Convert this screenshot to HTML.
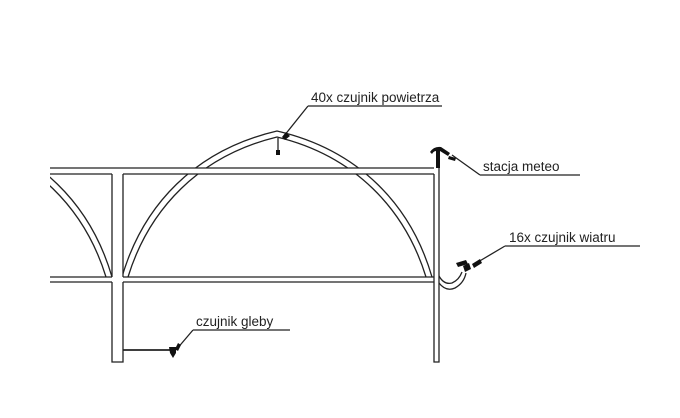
<!DOCTYPE html>
<html><head><style>body{margin:0;background:#fff}svg{display:block}text{font-family:"Liberation Sans",sans-serif;font-size:13.5px;fill:#222}</style></head>
<body>
<svg width="680" height="418" viewBox="0 0 680 418" xmlns="http://www.w3.org/2000/svg">
<g fill="none" stroke="#222" stroke-width="1.3">
<path d="M122,277 C143,205 195,150 277,131 C359,150 411,205 432,277"/>
<path d="M128,277 C149,209 199,156 277,137 C355,156 405,209 426,277"/>
<path d="M-43,131 C39,150 91,205 112,277"/>
<path d="M-43,137 C35,156 85,209 106,277"/>
</g>
<rect x="50" y="168" width="389" height="6" fill="#fff"/>
<rect x="50" y="277" width="389" height="5" fill="#fff"/>
<rect x="112" y="168" width="11" height="194" fill="#fff"/>
<rect x="0" y="0" width="50" height="418" fill="#fff"/>
<g fill="none" stroke="#222" stroke-width="1.3">
<path d="M50,168 H434"/>
<path d="M50,174 H112 M123,174 H434"/>
<path d="M50,277 H112 M123,277 H434"/>
<path d="M50,282 H112 M123,282 H434"/>
<path d="M112,174 V277 M123,174 V277 M112,282 V362 H123 V282"/>
<path d="M434,174 V362 H439 V152"/>
<path d="M439,276 Q444,285 452,283 Q459,280 462,272"/>
<path d="M439,283 Q446,292 455,288 Q464,283 466,273"/>
<path d="M123,350 H172" stroke-width="1.8"/>
<path d="M308,106 H442 M308,106 L284,136"/>
<path d="M480,175 H580 M480,175 L452,155"/>
<path d="M505,246 H640 M505,246 L478,262"/>
<path d="M193,330 H290 M193,330 L176,350"/>
<path d="M278,138 V150"/>
</g>
<g fill="#111">
<rect x="276" y="150" width="4" height="5"/>
<polygon points="282,137 286,132 290,136 285,140"/>
<rect x="436" y="150" width="4" height="18"/>
<path d="M430,152 Q434,146 441,147 L450,153 L448,156 L440,151 Q434,150 432,154 Z"/>
<polygon points="449,156 456,158 455,161 448,159"/>
<polygon points="456,263 466,260 468,264 458,267"/>
<polygon points="463,266 469,263 471,269 465,272"/>
<polygon points="472,264 480,259 482,263 474,268"/>
<path d="M169,347 h7 v6 l-3,5 l-3,-5 z"/>
<polygon points="175,349 178,343 181,345 178,351"/>
</g>
<text x="311" y="102">40x czujnik powietrza</text>
<text x="483" y="171">stacja meteo</text>
<text x="509" y="242">16x czujnik wiatru</text>
<text x="196" y="326">czujnik gleby</text>
</svg>
</body></html>
